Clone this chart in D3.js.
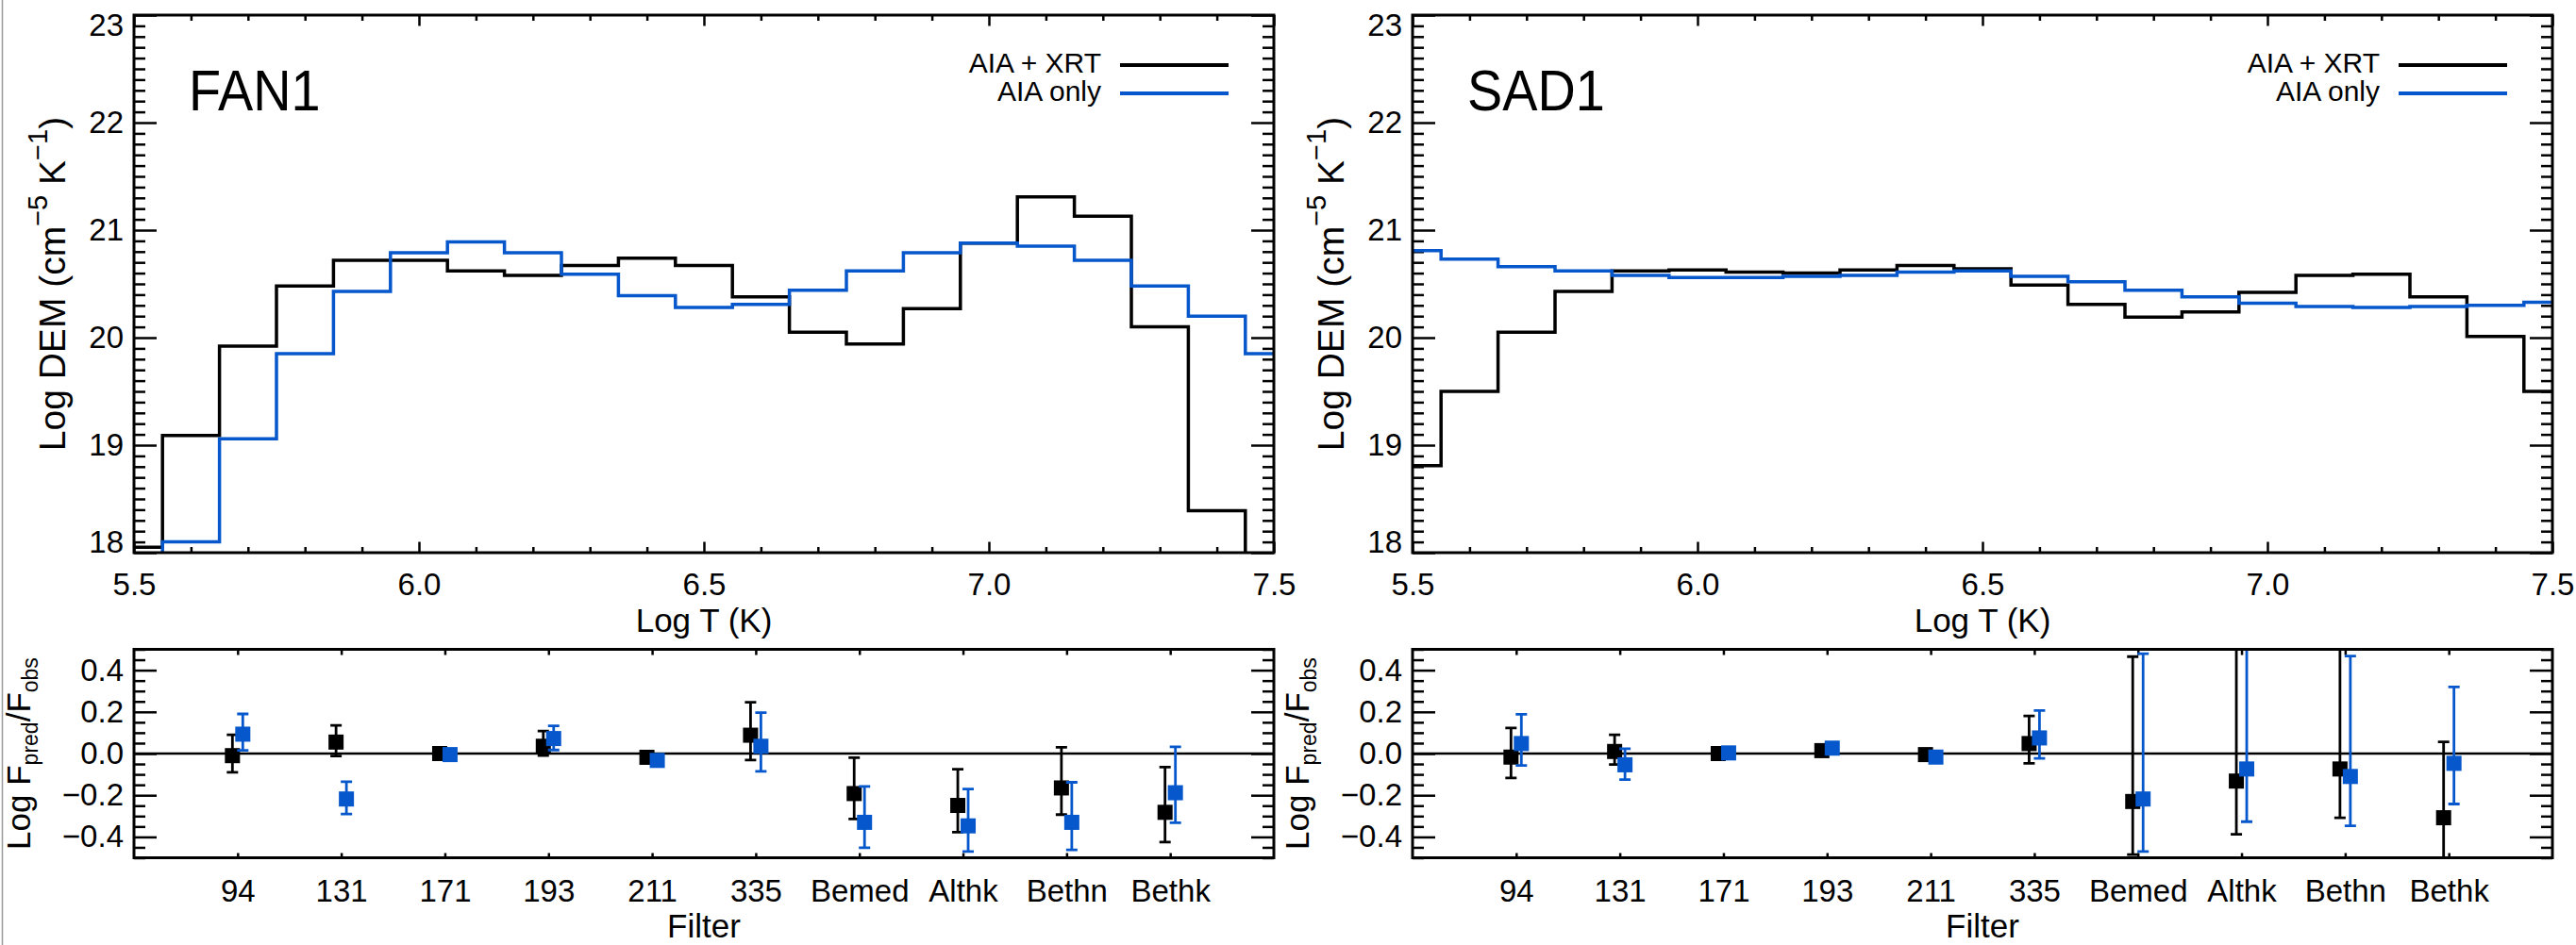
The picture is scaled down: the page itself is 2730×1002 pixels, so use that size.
<!DOCTYPE html>
<html><head><meta charset="utf-8">
<script src="https://cdn.jsdelivr.net/npm/d3@7"></script>
<style>
body{margin:0;background:#fff}
svg{display:block}
text{font-family:"Liberation Sans",Arial,Helvetica,sans-serif;fill:#000}
</style>
</head><body>
<svg id="c" width="2730" height="1002"></svg>
<script>
// ---------------- DATA ----------------
const logT = [5.5,5.6,5.7,5.8,5.9,6.0,6.1,6.2,6.3,6.4,6.5,6.6,6.7,6.8,6.9,7.0,7.1,7.2,7.3,7.4,7.5];
const fan1AiaXrt  = [18.05,19.09,19.92,20.48,20.72,20.72,20.62,20.58,20.67,20.74,20.67,20.38,20.05,19.94,20.27,20.88,21.31,21.13,20.10,18.39,17.50];
const fan1AiaOnly = [17.80,18.10,19.06,19.85,20.43,20.79,20.89,20.79,20.59,20.39,20.28,20.31,20.44,20.62,20.79,20.88,20.85,20.72,20.48,20.20,19.85];
const sad1AiaXrt  = [18.81,19.50,20.05,20.43,20.62,20.63,20.61,20.60,20.63,20.67,20.64,20.49,20.31,20.19,20.24,20.42,20.58,20.59,20.38,20.01,19.50];
const sad1AiaOnly = [20.81,20.73,20.66,20.62,20.58,20.56,20.56,20.57,20.58,20.61,20.62,20.57,20.52,20.44,20.38,20.32,20.29,20.28,20.29,20.30,20.33];

const filters = ["94","131","171","193","211","335","Bemed","Althk","Bethn","Bethk"];
// FAN1 ratio, AIA + XRT (black)
const fan1XrtVal = [-0.010, 0.055, 0.000, 0.035,-0.018, 0.088,-0.192,-0.249,-0.165,-0.282];
const fan1XrtLo  = [-0.090,-0.012,-0.015,-0.010,-0.030,-0.031,-0.314,-0.377,-0.293,-0.425];
const fan1XrtHi  = [ 0.090, 0.135, 0.015, 0.108,-0.005, 0.246,-0.020,-0.075, 0.030,-0.065];
// FAN1 ratio, AIA only (blue)
const fan1AiaVal = [ 0.093,-0.218,-0.005, 0.072,-0.033, 0.035,-0.330,-0.347,-0.330,-0.188];
const fan1AiaLo  = [ 0.015,-0.290,-0.020, 0.017,-0.045,-0.085,-0.452,-0.470,-0.462,-0.332];
const fan1AiaHi  = [ 0.190,-0.135, 0.010, 0.133,-0.020, 0.196,-0.158,-0.170,-0.138, 0.032];
// SAD1 ratio, AIA + XRT (black)
const sad1XrtVal = [-0.017, 0.010, 0.000, 0.014,-0.005, 0.048,-0.230,-0.132,-0.074,-0.308];
const sad1XrtLo  = [-0.117,-0.053,-0.012,-0.005,-0.015,-0.047,-0.485,-0.387,-0.308,-0.700];
const sad1XrtHi  = [ 0.123, 0.090, 0.012, 0.030, 0.005, 0.180, 0.465, 0.700, 0.700, 0.056];
// SAD1 ratio, AIA only (blue)
const sad1AiaVal = [ 0.048,-0.054, 0.003, 0.026,-0.017, 0.075,-0.218,-0.074,-0.110,-0.047];
const sad1AiaLo  = [-0.057,-0.125,-0.010, 0.005,-0.030,-0.023,-0.470,-0.327,-0.347,-0.242];
const sad1AiaHi  = [ 0.188, 0.023, 0.015, 0.045,-0.005, 0.206, 0.479, 0.700, 0.468, 0.320];

const demTicks = [18,19,20,21,22,23];
const tempTicks = [5.5,6.0,6.5,7.0,7.5];
const ratioTicks = [-0.4,-0.2,0.0,0.2,0.4];
const legendLabels = ["AIA + XRT","AIA only"];

// ---------------- DRAW ----------------
const BLUE = "#0657cc";
const svg = d3.select("#c");
svg.append("rect").attr("width",2730).attr("height",1002).attr("fill","#fff");
svg.append("line").attr("x1",2.5).attr("x2",2.5).attr("y1",0).attr("y2",1002)
   .attr("stroke","#9a9a9a").attr("stroke-width",1.5);

const PW = 1208, TOP_H = 570, BOT_H = 221;
const panels = [
  {dx:142, name:"FAN1", dem:[fan1AiaXrt,fan1AiaOnly],
   ratio:[[fan1XrtVal,fan1XrtLo,fan1XrtHi],[fan1AiaVal,fan1AiaLo,fan1AiaHi]]},
  {dx:1497, name:"SAD1", dem:[sad1AiaXrt,sad1AiaOnly],
   ratio:[[sad1XrtVal,sad1XrtLo,sad1XrtHi],[sad1AiaVal,sad1AiaLo,sad1AiaHi]]}
];
const colors = ["#000", BLUE];

function styleAxis(g, sw){
  g.select(".domain").remove();
  g.selectAll(".tick line").attr("stroke","#000").attr("stroke-width",sw||2.5);
  g.selectAll(".tick text").attr("font-size",33).attr("font-family",'"Liberation Sans",Arial,sans-serif');
}

panels.forEach((p,pi)=>{
  // ===== Top DEM plot =====
  const g = svg.append("g").attr("transform",`translate(${p.dx},16)`);
  const x = d3.scaleLinear().domain([5.5,7.5]).range([0,PW]);
  const y = d3.scaleLinear().domain([18,23]).range([TOP_H,0]);
  const clipId = "clipTop"+pi;
  g.append("clipPath").attr("id",clipId).append("rect").attr("width",PW).attr("height",TOP_H);

  const minorY = y.ticks(50).filter(v=>Math.abs(v-Math.round(v))>1e-6);
  const minorX = x.ticks(20).filter(v=>Math.abs(v*2-Math.round(v*2))>1e-6);

  // left axis
  const la = g.append("g").call(d3.axisLeft(y).tickValues(demTicks).tickFormat(d3.format("d"))
     .tickSizeInner(-24).tickSizeOuter(0).tickPadding(11)).call(styleAxis);
  // end labels kept inside the plot's vertical range
  la.selectAll(".tick text").attr("transform",d=> d===23 ? "translate(0,11)" : d===18 ? "translate(0,-11.5)" : null);
  g.append("g").call(d3.axisLeft(y).tickValues(minorY).tickFormat("")
     .tickSizeInner(-12).tickSizeOuter(0)).call(styleAxis);
  // right axis
  g.append("g").attr("transform",`translate(${PW},0)`).call(d3.axisRight(y).tickValues(demTicks).tickFormat("")
     .tickSizeInner(-24).tickSizeOuter(0)).call(styleAxis);
  g.append("g").attr("transform",`translate(${PW},0)`).call(d3.axisRight(y).tickValues(minorY).tickFormat("")
     .tickSizeInner(-12).tickSizeOuter(0)).call(styleAxis);
  // bottom axis
  g.append("g").attr("transform",`translate(0,${TOP_H})`).call(d3.axisBottom(x).tickValues(tempTicks).tickFormat(d3.format(".1f"))
     .tickSizeInner(-11.5).tickSizeOuter(0).tickPadding(22)).call(styleAxis);
  g.append("g").attr("transform",`translate(0,${TOP_H})`).call(d3.axisBottom(x).tickValues(minorX).tickFormat("")
     .tickSizeInner(-6).tickSizeOuter(0)).call(styleAxis);
  // top axis
  g.append("g").call(d3.axisTop(x).tickValues(tempTicks).tickFormat("")
     .tickSizeInner(-11.5).tickSizeOuter(0)).call(styleAxis);
  g.append("g").call(d3.axisTop(x).tickValues(minorX).tickFormat("")
     .tickSizeInner(-6).tickSizeOuter(0)).call(styleAxis);

  // step lines
  const line = d3.line().x(d=>x(d[0])).y(d=>y(d[1])).curve(d3.curveStep);
  p.dem.forEach((vals,si)=>{
    g.append("path").attr("clip-path",`url(#${clipId})`)
     .attr("d",line(logT.map((t,i)=>[t,vals[i]])))
     .attr("fill","none").attr("stroke",colors[si]).attr("stroke-width",3.5)
     .attr("stroke-linejoin","miter").attr("stroke-linecap","square");
  });

  // frame
  g.append("rect").attr("width",PW).attr("height",TOP_H).attr("fill","none")
   .attr("stroke","#000").attr("stroke-width",3);

  // title
  g.append("text").attr("x",58).attr("y",101).attr("font-size",62)
   .attr("transform","translate(58,101) scale(0.9,1) translate(-58,-101)")
   .text(p.name);

  // legend
  legendLabels.forEach((lab,li)=>{
    const ly = 53 + li*30;
    g.append("text").attr("x",1025).attr("y",ly+8).attr("text-anchor","end")
     .attr("font-size",30).text(lab);
    g.append("line").attr("x1",1045).attr("x2",1160).attr("y1",ly).attr("y2",ly)
     .attr("stroke",colors[li]).attr("stroke-width",4);
  });

  // axis titles
  g.append("text").attr("x",PW/2).attr("y",654).attr("text-anchor","middle")
   .attr("font-size",35).text("Log T (K)");
  const yl = g.append("text").attr("text-anchor","middle").attr("font-size",39)
     .attr("transform",`translate(${69-142},${TOP_H/2}) rotate(-90)`);
  yl.append("tspan").text("Log DEM (cm");
  yl.append("tspan").attr("font-size",29).attr("dy",-19).text("\u22125");
  yl.append("tspan").attr("dy",19).text(" K");
  yl.append("tspan").attr("font-size",29).attr("dy",-19).text("\u22121");
  yl.append("tspan").attr("dy",19).text(")");

  // ===== Bottom ratio plot =====
  const b = svg.append("g").attr("transform",`translate(${p.dx},688.5)`);
  const xb = d3.scaleLinear().domain([0,11]).range([0,PW]);
  const yb = d3.scaleLinear().domain([-0.5,0.5]).range([BOT_H,0]);
  const clipB = "clipBot"+pi;
  b.append("clipPath").attr("id",clipB).append("rect").attr("width",PW).attr("height",BOT_H);
  const minorR = yb.ticks(20).filter(v=>Math.abs(v*5-Math.round(v*5))>1e-6);
  const catPos = filters.map((f,i)=>i+1);

  b.append("g").call(d3.axisLeft(yb).tickValues(ratioTicks).tickFormat(d3.format(".1f"))
     .tickSizeInner(-24).tickSizeOuter(0).tickPadding(11)).call(styleAxis);
  b.append("g").call(d3.axisLeft(yb).tickValues(minorR).tickFormat("")
     .tickSizeInner(-12).tickSizeOuter(0)).call(styleAxis);
  b.append("g").attr("transform",`translate(${PW},0)`).call(d3.axisRight(yb).tickValues(ratioTicks).tickFormat("")
     .tickSizeInner(-24).tickSizeOuter(0)).call(styleAxis);
  b.append("g").attr("transform",`translate(${PW},0)`).call(d3.axisRight(yb).tickValues(minorR).tickFormat("")
     .tickSizeInner(-12).tickSizeOuter(0)).call(styleAxis);
  b.append("g").attr("transform",`translate(0,${BOT_H})`).call(d3.axisBottom(xb).tickValues(catPos)
     .tickFormat((d,i)=>filters[i]).tickSizeInner(-5).tickSizeOuter(0).tickPadding(23)).call(styleAxis);
  b.append("g").call(d3.axisTop(xb).tickValues(catPos).tickFormat("")
     .tickSizeInner(-6).tickSizeOuter(0)).call(styleAxis);

  // zero line
  b.append("line").attr("x1",0).attr("x2",PW).attr("y1",yb(0)).attr("y2",yb(0))
   .attr("stroke","#000").attr("stroke-width",2.5);

  // error bars
  const offs = [-0.05, 0.05];
  p.ratio.forEach((ser,si)=>{
    const [val,lo,hi] = ser;
    const gg = b.append("g").attr("clip-path",`url(#${clipB})`);
    filters.forEach((f,i)=>{
      const cx = xb(i+1+offs[si]);
      const c = colors[si];
      gg.append("line").attr("x1",cx).attr("x2",cx).attr("y1",yb(lo[i])).attr("y2",yb(hi[i]))
        .attr("stroke",c).attr("stroke-width",2.8);
      [lo[i],hi[i]].forEach(v=>{
        gg.append("line").attr("x1",cx-6).attr("x2",cx+6).attr("y1",yb(v)).attr("y2",yb(v))
          .attr("stroke",c).attr("stroke-width",2.8);
      });
      gg.append("rect").attr("x",cx-8).attr("y",yb(val[i])-8).attr("width",16).attr("height",16)
        .attr("fill",c);
    });
  });

  b.append("rect").attr("width",PW).attr("height",BOT_H).attr("fill","none")
   .attr("stroke","#000").attr("stroke-width",3);

  b.append("text").attr("x",PW/2).attr("y",305).attr("text-anchor","middle")
   .attr("font-size",35).text("Filter");
  const rl = b.append("text").attr("text-anchor","middle").attr("font-size",35)
     .attr("transform",`translate(${32-142},${yb(0)}) rotate(-90)`);
  rl.append("tspan").text("Log F");
  rl.append("tspan").attr("font-size",23).attr("dy",8).text("pred");
  rl.append("tspan").attr("dy",-8).text("/F");
  rl.append("tspan").attr("font-size",23).attr("dy",8).text("obs");
});
</script>
</body></html>
